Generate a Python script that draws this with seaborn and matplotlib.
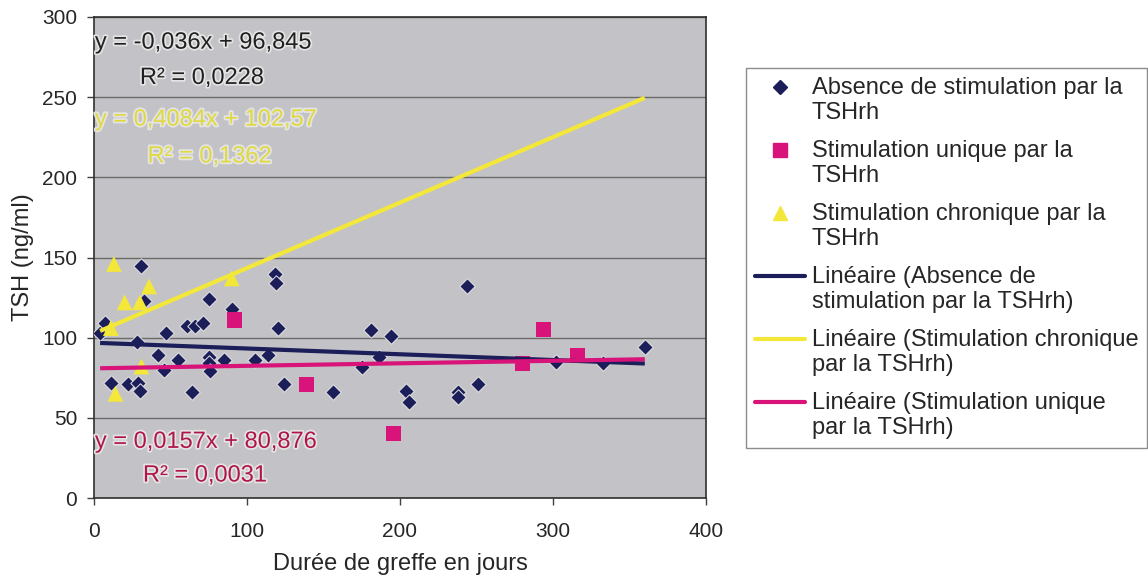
import matplotlib
matplotlib.use("Agg")
import matplotlib.pyplot as plt
import matplotlib.patheffects as pe
from matplotlib.lines import Line2D
from matplotlib.legend_handler import HandlerLine2D
import numpy as np
import pandas as pd
import seaborn as sns

# Donnees
#------------------------------
absence_x = [4, 7, 11, 22, 28, 29, 30, 31, 33, 42, 47, 46, 55, 61, 64, 66, 71, 75, 75, 75, 76,
             85, 90, 105, 114, 118, 119, 120, 124, 156, 175, 181, 186, 194, 204, 206, 238, 238,
             244, 251, 302, 333, 360]
absence_y = [103, 109, 72, 71, 97, 72, 67, 145, 123, 89, 103, 80, 86, 107, 66, 107, 109, 124, 88,
             84, 79, 86, 118, 86, 89, 140, 134, 106, 71, 66, 82, 105, 88, 101, 67, 60, 66, 63,
             132, 71, 85, 84, 94]

unique_x = [92, 139, 196, 280, 294, 316]
unique_y = [111, 71, 40, 84, 105, 89]

chronique_x = [11, 13, 14, 20, 30, 31, 36, 90]
chronique_y = [106, 146, 65, 122, 122, 82, 132, 137]

# trendlines (pente, ordonnee, R2) as printed on the chart
absence_fit = (-0.036, 96.845, "0,0228", "y = -0,036x + 96,845")
chronique_fit = (0.4084, 102.57, "0,1362", "y = 0,4084x + 102,57")
unique_fit = (0.0157, 80.876, "0,0031", "y = 0,0157x + 80,876")

groupes = ["Absence de stimulation par la\nTSHrh",
           "Stimulation unique par la\nTSHrh",
           "Stimulation chronique par la\nTSHrh"]
lignes = ["Linéaire (Absence de\nstimulation par la TSHrh)",
          "Linéaire (Stimulation chronique\npar la TSHrh)",
          "Linéaire (Stimulation unique\npar la TSHrh)"]

NAVY = "#1b1e58"
MAGENTA = "#d8137a"
YELLOW = "#f3e73a"


#legend handles sit on the first line of a two-line label
class FirstLineHandler(HandlerLine2D):
    def create_artists(self, legend, orig_handle, xdescent, ydescent, width, height,
                       fontsize, trans):
        arts = super().create_artists(legend, orig_handle, xdescent, ydescent, width,
                                      height, fontsize, trans)
        for a in arts:
            a.set_ydata(np.asarray(a.get_ydata(), dtype=float) + 0.6 * fontsize)
        return arts


sns.set_style("white")
plt.rcParams["font.family"] = ["Liberation Sans", "DejaVu Sans"]

df = pd.concat([
    pd.DataFrame({"x": absence_x, "y": absence_y, "groupe": groupes[0]}),
    pd.DataFrame({"x": unique_x, "y": unique_y, "groupe": groupes[1]}),
    pd.DataFrame({"x": chronique_x, "y": chronique_y, "groupe": groupes[2]}),
])

fig = plt.figure(figsize=(11.48, 5.82), dpi=100)
ax = fig.add_axes([94 / 1148, 1 - 498 / 582, 612 / 1148, 481 / 582])
ax.set_facecolor("#c3c3c7")

palette = {groupes[0]: NAVY, groupes[1]: MAGENTA, groupes[2]: YELLOW}
markers = {groupes[0]: "D", groupes[1]: "s", groupes[2]: "^"}
sizes = {groupes[0]: 62, groupes[1]: 120, groupes[2]: 130}

for g in groupes:
    sub = df[df["groupe"] == g]
    sns.scatterplot(data=sub, x="x", y="y", color=palette[g], marker=markers[g],
                    s=sizes[g], edgecolor="#e8e8e8" if g == groupes[0] else "none",
                    linewidth=0.7, ax=ax, zorder=3, legend=False)

# trendlines over the full x range
xs = np.array([min(df["x"]), max(df["x"])])
for (a, b, r2, eq), col in zip([absence_fit, chronique_fit, unique_fit], [NAVY, YELLOW, MAGENTA]):
    ax.plot(xs, a * xs + b, color=col, lw=3, zorder=4, solid_capstyle="butt")

halo = [pe.withStroke(linewidth=2.5, foreground="#e4e4e4")]
eq_pos = [(absence_fit, "#202020", 284, 262, 30),
          (chronique_fit, "#e0d93e", 236, 213, 35),
          (unique_fit, "#b0154a", 35, 14, 32)]
for fit, tcol, y1, y2, xr in eq_pos:
    ax.text(0.6, y1, fit[3], color=tcol, fontsize=17, ha="left", va="center",
            path_effects=halo, zorder=5)
    ax.text(xr, y2, "R² = " + fit[2], color=tcol, fontsize=17, ha="left", va="center",
            path_effects=halo, zorder=5)

ax.set_xlim(0, 400)
ax.set_ylim(0, 300)
ax.set_xticks([0, 100, 200, 300, 400])
ax.set_yticks([0, 50, 100, 150, 200, 250, 300])
ax.grid(axis="y", color="#6a6a6a", lw=1)
ax.set_axisbelow(True)
ax.tick_params(axis="both", labelsize=15, direction="out", length=5, width=1,
               color="#404040", left=True, bottom=True)
ax.tick_params(axis="y", pad=7)
ax.tick_params(axis="x", pad=12)
for s in ax.spines.values():
    s.set_color("#303030")
    s.set_linewidth(1.2)
ax.set_xlabel("Durée de greffe en jours", fontsize=17, labelpad=9)
ax.set_ylabel("TSH (ng/ml)", fontsize=17, labelpad=6)

handles = [
    Line2D([], [], ls="none", marker="D", color=NAVY, markersize=7),
    Line2D([], [], ls="none", marker="s", color=MAGENTA, markersize=10),
    Line2D([], [], ls="none", marker="^", color=YELLOW, markersize=10),
    Line2D([], [], color=NAVY, lw=3),
    Line2D([], [], color=YELLOW, lw=3),
    Line2D([], [], color=MAGENTA, lw=3),
]
leg = fig.legend(handles, groupes + lignes, loc="upper left",
                 bbox_to_anchor=(746 / 1148, 1 - 68 / 582), bbox_transform=fig.transFigure,
                 fontsize=17, frameon=True, fancybox=False, edgecolor="#707070",
                 borderaxespad=0, handlelength=2.1, handletextpad=0.3,
                 labelspacing=0.66, borderpad=0.38,
                 handler_map={Line2D: FirstLineHandler()})
leg.get_frame().set_linewidth(1)
for t in leg.get_texts():
    t.set_linespacing(1.2)

fig.savefig("out.png", dpi=100)
